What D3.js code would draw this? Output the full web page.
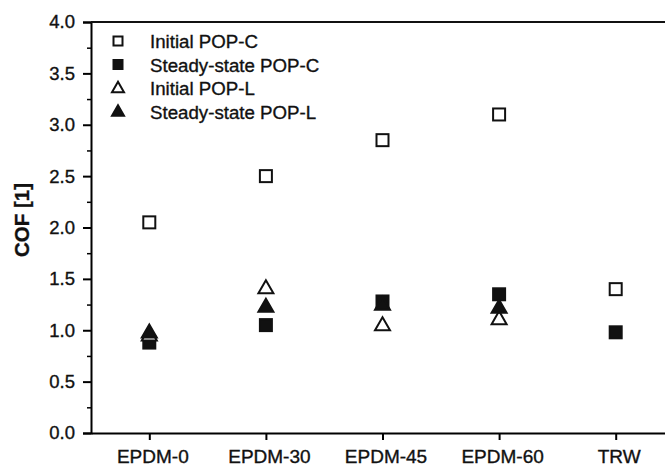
<!DOCTYPE html>
<html>
<head>
<meta charset="utf-8">
<script src="https://cdn.jsdelivr.net/npm/d3@7"></script>
<style>
  body { margin: 0; background: #fff; }
  text { font-family: "Liberation Sans", Arial, sans-serif; fill: #111; stroke: #111; stroke-width: 0.35px; }
</style>
</head>
<body>
<div class="wrapper"></div>
<script>
const WIDTH = 665
const HEIGHT = 468
const margin = {left: 91, right: -9, top: 22, bottom: 35}

var categories = ['EPDM-0', 'EPDM-30', 'EPDM-45', 'EPDM-60', 'TRW']
var yTicks = [0.0, 0.5, 1.0, 1.5, 2.0, 2.5, 3.0, 3.5, 4.0]

// null = no point for that category
var initialC = [2.05, 2.5, 2.85, 3.1, 1.4]
var steadyC = [0.88, 1.05, 1.28, 1.35, 0.98]
var initialL = [0.95, 1.41, 1.05, 1.11, null]
var steadyL = [0.98, 1.23, 1.25, 1.22, null]

var series = [
  {name: 'Initial POP-C', values: initialC, shape: 'square', filled: false},
  {name: 'Steady-state POP-C', values: steadyC, shape: 'square', filled: true},
  {name: 'Initial POP-L', values: initialL, shape: 'triangle', filled: false},
  {name: 'Steady-state POP-L', values: steadyL, shape: 'triangle', filled: true}
]

var svg = d3.select(".wrapper")
    .append("svg")
    .attr("width", WIDTH)
    .attr("height", HEIGHT)

var x = d3.scalePoint(categories, [margin.left, WIDTH - margin.right]).padding(0.5)
var y = d3.scaleLinear([0, 4], [HEIGHT - margin.bottom, margin.top])

// y axis with outward major and minor ticks
var yAxis = svg.append("g")
    .attr("transform", `translate(${margin.left},0)`)
    .call(d3.axisLeft(y).tickValues(yTicks).tickFormat(d3.format(".1f")).tickSize(8).tickPadding(8))
yAxis.select(".domain").attr("stroke-width", 2)
yAxis.selectAll(".tick line").attr("stroke-width", 2)
yAxis.selectAll("text").style("font-size", "18.5px")

svg.append("g")
    .attr("transform", `translate(${margin.left},0)`)
    .call(d3.axisLeft(y).tickValues(d3.range(0.25, 4, 0.5)).tickSize(4).tickFormat(""))
    .call(g => g.select(".domain").remove())
    .selectAll(".tick line").attr("stroke-width", 1.5)

var xAxis = svg.append("g")
    .attr("transform", `translate(0,${HEIGHT - margin.bottom})`)
    .call(d3.axisBottom(x).tickSize(7).tickPadding(10).tickSizeOuter(0))
xAxis.select(".domain").attr("stroke-width", 2)
xAxis.selectAll(".tick line").attr("stroke-width", 2)
xAxis.selectAll("text").style("font-size", "19px").attr("dx", 3)

// top frame line
svg.append("line")
    .attr("x1", margin.left).attr("x2", WIDTH)
    .attr("y1", y(4)).attr("y2", y(4))
    .attr("stroke", "#111").attr("stroke-width", 2)

svg.append("text")
    .attr("transform", `translate(29,220) rotate(-90)`)
    .attr("text-anchor", "middle")
    .style("font-size", "20.5px")
    .style("font-weight", "bold")
    .text("COF [1]")

function drawMarker(g, shape, filled, cx, cy, s) {
  if (shape == 'square') {
    g.append("rect")
      .attr("x", cx - s / 2).attr("y", cy - s / 2)
      .attr("width", s).attr("height", s)
      .attr("fill", filled ? "#111" : "#fff")
      .attr("stroke", "#111").attr("stroke-width", 2)
  } else {
    var h = s * 0.87
    g.append("path")
      .attr("d", `M${cx},${cy - h * 0.6}L${cx + s / 2},${cy + h * 0.4}L${cx - s / 2},${cy + h * 0.4}Z`)
      .attr("fill", filled ? "#111" : "#fff")
      .attr("stroke", "#111").attr("stroke-width", 2)
      .attr("stroke-linejoin", "miter")
  }
}

var marks = svg.append("g")
series.forEach(function(s) {
  s.values.forEach(function(v, i) {
    if (v === null) return
    drawMarker(marks, s.shape, s.filled, x(categories[i]), y(v), s.shape == 'square' ? 12 : 15)
  })
})

// legend
var legend = svg.append("g")
series.forEach(function(s, i) {
  var ly = 41 + i * 23.5
  drawMarker(legend, s.shape, s.filled, 118, ly, s.shape == 'square' ? 9 : 12)
  legend.append("text")
    .attr("x", 150).attr("y", ly + 7)
    .style("font-size", "18.7px")
    .text(s.name)
})
</script>
</body>
</html>
